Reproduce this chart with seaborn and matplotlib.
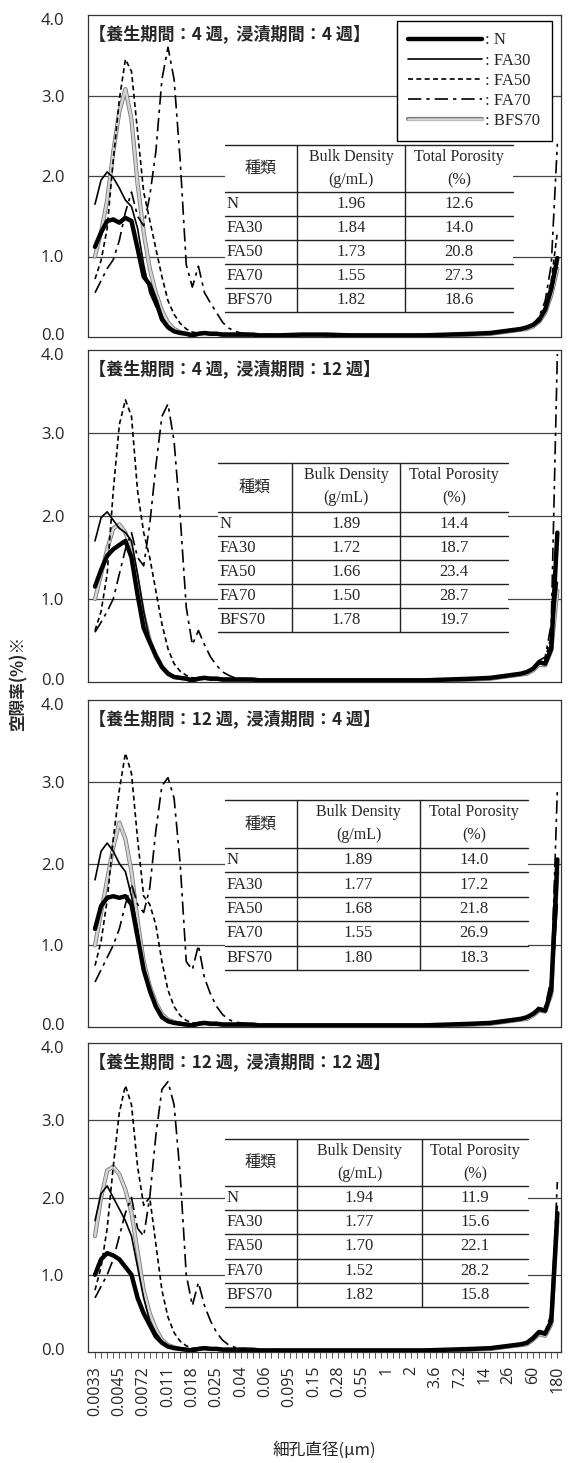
import matplotlib
matplotlib.use("Agg")
import matplotlib.pyplot as plt
import matplotlib.patheffects as pe
import matplotlib.transforms as mtransforms
from matplotlib.lines import Line2D
from matplotlib.patches import Rectangle
import seaborn as sns
import pandas as pd

sns.set_theme(style="white")
plt.rcParams['font.family'] = ['Open Sans', 'DejaVu Sans']

# ---------------- data ----------------
TICK_LABELS = ["0.0033", "0.0045", "0.0072", "0.011", "0.018", "0.025", "0.04", "0.06",
               "0.095", "0.15", "0.28", "0.55", "1", "2", "3.6", "7.2", "14", "26", "60", "180"]
N_POS = 77  # number of pore-size classes on the category axis
PORE_IDX = [0, 1, 2, 3, 4, 5, 6, 7, 8, 9, 10, 11, 12, 13, 14, 15, 16, 17, 18, 19, 20,
            21, 22, 23, 24, 25, 26, 27, 28, 29, 30,
            34, 38, 42, 46, 50, 54, 58, 62,
            65, 66, 67, 68, 69, 70, 71, 72, 73, 74, 75, 76]

SERIES = ["N", "FA30", "FA50", "FA70", "BFS70"]

TITLES = ["【養生期間：4 週,  浸漬期間：4 週】",
          "【養生期間：4 週,  浸漬期間：12 週】",
          "【養生期間：12 週,  浸漬期間：4 週】",
          "【養生期間：12 週,  浸漬期間：12 週】"]

# panel 1
P1_N = [1.12, 1.30, 1.44, 1.46, 1.42, 1.48, 1.44, 1.10, 0.75, 0.65, 0.45, 0.22, 0.12, 0.07, 0.05, 0.04, 0.02, 0.04, 0.05, 0.04, 0.04, 0.03, 0.03, 0.03, 0.03, 0.03, 0.03, 0.02, 0.02, 0.02, 0.02,
        0.03, 0.03, 0.02, 0.02, 0.02, 0.02, 0.03, 0.04,
        0.05, 0.06, 0.07, 0.08, 0.09, 0.10, 0.12, 0.15, 0.21, 0.34, 0.60, 0.98]
P1_FA30 = [1.65, 1.95, 2.05, 1.98, 1.85, 1.70, 1.62, 1.35, 0.90, 0.55, 0.38, 0.25, 0.14, 0.08, 0.05, 0.04, 0.02, 0.04, 0.05, 0.04, 0.04, 0.03, 0.03, 0.03, 0.03, 0.03, 0.02, 0.02, 0.02, 0.02, 0.02,
           0.03, 0.02, 0.02, 0.02, 0.02, 0.02, 0.03, 0.04,
           0.05, 0.05, 0.06, 0.07, 0.08, 0.09, 0.11, 0.14, 0.20, 0.32, 0.55, 0.90]
P1_FA50 = [0.72, 0.95, 1.35, 2.20, 2.95, 3.45, 3.30, 2.55, 1.80, 1.45, 1.10, 0.75, 0.45, 0.28, 0.17, 0.10, 0.06, 0.05, 0.05, 0.04, 0.04, 0.04, 0.03, 0.03, 0.03, 0.03, 0.03, 0.02, 0.02, 0.02, 0.02,
           0.03, 0.03, 0.02, 0.02, 0.02, 0.02, 0.03, 0.04,
           0.05, 0.06, 0.07, 0.08, 0.09, 0.10, 0.12, 0.15, 0.22, 0.38, 0.70, 1.30]
P1_FA70 = [0.55, 0.70, 0.85, 0.96, 1.20, 1.55, 1.80, 1.50, 1.38, 1.75, 2.30, 3.20, 3.60, 3.20, 2.20, 0.90, 0.62, 0.88, 0.55, 0.42, 0.30, 0.18, 0.11, 0.07, 0.05, 0.04, 0.04, 0.03, 0.03, 0.03, 0.03,
           0.03, 0.03, 0.03, 0.02, 0.02, 0.03, 0.03, 0.04,
           0.05, 0.06, 0.07, 0.08, 0.09, 0.10, 0.12, 0.16, 0.25, 0.45, 0.90, 2.40]
P1_BFS70 = [1.00, 1.30, 1.70, 2.30, 2.80, 3.08, 2.70, 1.90, 1.30, 0.85, 0.55, 0.33, 0.18, 0.10, 0.06, 0.04, 0.02, 0.04, 0.05, 0.04, 0.04, 0.03, 0.03, 0.03, 0.03, 0.03, 0.02, 0.02, 0.02, 0.02, 0.02,
            0.02, 0.02, 0.02, 0.02, 0.02, 0.02, 0.02, 0.03,
            0.04, 0.05, 0.06, 0.07, 0.08, 0.09, 0.10, 0.13, 0.19, 0.30, 0.52, 0.85]

# panel 2
P2_N = [1.15, 1.35, 1.52, 1.60, 1.65, 1.70, 1.50, 1.05, 0.65, 0.48, 0.32, 0.18, 0.10, 0.06, 0.05, 0.04, 0.02, 0.04, 0.05, 0.04, 0.04, 0.03, 0.03, 0.03, 0.03, 0.03, 0.03, 0.02, 0.02, 0.02, 0.02,
        0.02, 0.02, 0.02, 0.02, 0.02, 0.02, 0.03, 0.04,
        0.05, 0.06, 0.07, 0.08, 0.09, 0.10, 0.12, 0.16, 0.24, 0.22, 0.40, 1.80]
P2_FA30 = [1.70, 1.98, 2.05, 1.95, 1.85, 1.80, 1.70, 1.30, 0.85, 0.50, 0.32, 0.20, 0.12, 0.07, 0.05, 0.04, 0.02, 0.04, 0.05, 0.04, 0.04, 0.03, 0.03, 0.03, 0.03, 0.03, 0.02, 0.02, 0.02, 0.02, 0.02,
           0.02, 0.02, 0.02, 0.02, 0.02, 0.02, 0.03, 0.04,
           0.05, 0.05, 0.06, 0.07, 0.08, 0.09, 0.11, 0.15, 0.22, 0.25, 0.45, 1.20]
P2_FA50 = [0.62, 0.85, 1.30, 2.30, 3.10, 3.40, 3.20, 2.30, 1.80, 1.50, 1.10, 0.70, 0.40, 0.22, 0.13, 0.08, 0.05, 0.05, 0.05, 0.04, 0.04, 0.04, 0.03, 0.03, 0.03, 0.03, 0.03, 0.02, 0.02, 0.02, 0.02,
           0.02, 0.02, 0.02, 0.02, 0.02, 0.02, 0.03, 0.04,
           0.05, 0.06, 0.07, 0.08, 0.09, 0.10, 0.12, 0.16, 0.24, 0.28, 0.55, 1.60]
P2_FA70 = [0.60, 0.72, 0.85, 1.00, 1.30, 1.60, 1.80, 1.50, 1.40, 1.90, 2.60, 3.20, 3.35, 2.90, 2.00, 0.90, 0.45, 0.62, 0.45, 0.30, 0.20, 0.12, 0.08, 0.05, 0.04, 0.04, 0.03, 0.03, 0.03, 0.03, 0.03,
           0.02, 0.02, 0.02, 0.02, 0.02, 0.03, 0.03, 0.04,
           0.05, 0.06, 0.07, 0.08, 0.09, 0.10, 0.12, 0.17, 0.26, 0.30, 0.70, 3.95]
P2_BFS70 = [1.00, 1.30, 1.60, 1.85, 1.90, 1.80, 1.60, 1.20, 0.80, 0.50, 0.30, 0.18, 0.10, 0.06, 0.05, 0.04, 0.02, 0.04, 0.05, 0.04, 0.04, 0.03, 0.03, 0.03, 0.03, 0.03, 0.02, 0.02, 0.02, 0.02, 0.02,
            0.02, 0.02, 0.02, 0.02, 0.02, 0.02, 0.02, 0.03,
            0.04, 0.05, 0.06, 0.07, 0.08, 0.09, 0.10, 0.14, 0.21, 0.20, 0.38, 1.10]

# panel 3
P3_N = [1.20, 1.48, 1.58, 1.60, 1.58, 1.60, 1.50, 1.10, 0.70, 0.45, 0.25, 0.12, 0.07, 0.05, 0.04, 0.03, 0.02, 0.04, 0.05, 0.04, 0.04, 0.03, 0.03, 0.03, 0.03, 0.03, 0.03, 0.02, 0.02, 0.02, 0.02,
        0.02, 0.02, 0.02, 0.02, 0.02, 0.02, 0.03, 0.04,
        0.05, 0.06, 0.07, 0.08, 0.09, 0.10, 0.12, 0.16, 0.22, 0.20, 0.45, 2.05]
P3_FA30 = [1.80, 2.15, 2.25, 2.15, 2.00, 1.90, 1.60, 1.20, 0.70, 0.40, 0.25, 0.14, 0.08, 0.05, 0.04, 0.03, 0.02, 0.04, 0.05, 0.04, 0.04, 0.03, 0.03, 0.03, 0.03, 0.03, 0.02, 0.02, 0.02, 0.02, 0.02,
           0.02, 0.02, 0.02, 0.02, 0.02, 0.02, 0.03, 0.04,
           0.05, 0.05, 0.06, 0.07, 0.08, 0.09, 0.11, 0.15, 0.21, 0.20, 0.40, 1.50]
P3_FA50 = [0.75, 1.05, 1.55, 2.30, 2.90, 3.35, 3.10, 2.30, 1.60, 1.50, 1.25, 0.80, 0.45, 0.25, 0.14, 0.08, 0.05, 0.05, 0.05, 0.04, 0.04, 0.04, 0.03, 0.03, 0.03, 0.03, 0.03, 0.02, 0.02, 0.02, 0.02,
           0.02, 0.02, 0.02, 0.02, 0.02, 0.02, 0.03, 0.04,
           0.05, 0.06, 0.07, 0.08, 0.09, 0.10, 0.12, 0.16, 0.23, 0.22, 0.48, 1.80]
P3_FA70 = [0.55, 0.70, 0.85, 1.00, 1.20, 1.50, 1.75, 1.50, 1.40, 1.70, 2.40, 2.95, 3.05, 2.80, 2.00, 0.80, 0.70, 1.00, 0.60, 0.40, 0.25, 0.15, 0.09, 0.06, 0.05, 0.04, 0.03, 0.03, 0.03, 0.03, 0.03,
           0.02, 0.02, 0.02, 0.02, 0.02, 0.03, 0.03, 0.04,
           0.05, 0.06, 0.07, 0.08, 0.09, 0.10, 0.12, 0.17, 0.25, 0.25, 0.60, 2.90]
P3_BFS70 = [1.00, 1.40, 1.80, 2.20, 2.50, 2.30, 1.90, 1.30, 0.80, 0.50, 0.30, 0.16, 0.09, 0.06, 0.04, 0.03, 0.02, 0.04, 0.05, 0.04, 0.04, 0.03, 0.03, 0.03, 0.03, 0.03, 0.02, 0.02, 0.02, 0.02, 0.02,
            0.02, 0.02, 0.02, 0.02, 0.02, 0.02, 0.02, 0.03,
            0.04, 0.05, 0.06, 0.07, 0.08, 0.09, 0.10, 0.14, 0.20, 0.19, 0.40, 1.90]

# panel 4
P4_N = [1.00, 1.20, 1.28, 1.25, 1.20, 1.10, 1.00, 0.70, 0.50, 0.35, 0.20, 0.12, 0.07, 0.05, 0.04, 0.03, 0.02, 0.04, 0.05, 0.04, 0.04, 0.03, 0.03, 0.03, 0.03, 0.03, 0.03, 0.02, 0.02, 0.02, 0.02,
        0.02, 0.02, 0.02, 0.02, 0.02, 0.02, 0.03, 0.04,
        0.05, 0.06, 0.07, 0.08, 0.09, 0.10, 0.12, 0.18, 0.26, 0.24, 0.40, 1.80]
P4_FA30 = [1.70, 2.05, 2.15, 2.00, 1.85, 1.70, 1.50, 1.10, 0.70, 0.40, 0.25, 0.14, 0.08, 0.05, 0.04, 0.03, 0.02, 0.04, 0.05, 0.04, 0.04, 0.03, 0.03, 0.03, 0.03, 0.03, 0.02, 0.02, 0.02, 0.02, 0.02,
           0.02, 0.02, 0.02, 0.02, 0.02, 0.02, 0.03, 0.04,
           0.05, 0.05, 0.06, 0.07, 0.08, 0.09, 0.11, 0.16, 0.24, 0.22, 0.38, 1.60]
P4_FA50 = [0.80, 1.10, 1.60, 2.40, 3.10, 3.45, 3.20, 2.40, 1.90, 2.00, 1.40, 0.80, 0.45, 0.25, 0.14, 0.08, 0.05, 0.05, 0.05, 0.04, 0.04, 0.04, 0.03, 0.03, 0.03, 0.03, 0.03, 0.02, 0.02, 0.02, 0.02,
           0.02, 0.02, 0.02, 0.02, 0.02, 0.02, 0.03, 0.04,
           0.05, 0.06, 0.07, 0.08, 0.09, 0.10, 0.12, 0.17, 0.25, 0.23, 0.42, 1.90]
P4_FA70 = [0.70, 0.85, 1.00, 1.20, 1.50, 1.80, 2.00, 1.60, 1.50, 2.00, 2.80, 3.40, 3.50, 3.20, 2.30, 1.00, 0.60, 0.90, 0.60, 0.40, 0.25, 0.15, 0.09, 0.06, 0.05, 0.04, 0.03, 0.03, 0.03, 0.03, 0.03,
           0.02, 0.02, 0.02, 0.02, 0.02, 0.03, 0.03, 0.04,
           0.05, 0.06, 0.07, 0.08, 0.09, 0.10, 0.12, 0.18, 0.27, 0.26, 0.50, 2.20]
P4_BFS70 = [1.50, 2.00, 2.35, 2.40, 2.30, 2.10, 1.80, 1.30, 0.80, 0.50, 0.30, 0.16, 0.09, 0.06, 0.04, 0.03, 0.02, 0.04, 0.05, 0.04, 0.04, 0.03, 0.03, 0.03, 0.03, 0.03, 0.02, 0.02, 0.02, 0.02, 0.02,
            0.02, 0.02, 0.02, 0.02, 0.02, 0.02, 0.02, 0.03,
            0.04, 0.05, 0.06, 0.07, 0.08, 0.09, 0.10, 0.16, 0.23, 0.21, 0.36, 1.70]

PANELS = [
    [P1_N, P1_FA30, P1_FA50, P1_FA70, P1_BFS70],
    [P2_N, P2_FA30, P2_FA50, P2_FA70, P2_BFS70],
    [P3_N, P3_FA30, P3_FA50, P3_FA70, P3_BFS70],
    [P4_N, P4_FA30, P4_FA50, P4_FA70, P4_BFS70],
]

# tables (種類, Bulk Density, Total Porosity)
BULK = [["1.96", "1.84", "1.73", "1.55", "1.82"],
        ["1.89", "1.72", "1.66", "1.50", "1.78"],
        ["1.89", "1.77", "1.68", "1.55", "1.80"],
        ["1.94", "1.77", "1.70", "1.52", "1.82"]]
POROSITY = [["12.6", "14.0", "20.8", "27.3", "18.6"],
            ["14.4", "18.7", "23.4", "28.7", "19.7"],
            ["14.0", "17.2", "21.8", "26.9", "18.3"],
            ["11.9", "15.6", "22.1", "28.2", "15.8"]]

# ---------------- styling ----------------
STYLE = {
    "N": dict(color="black", lw=3.2, ls="-"),
    "FA30": dict(color="black", lw=1.2, ls="-"),
    "FA50": dict(color="black", lw=1.2, ls=(0, (3, 2))),
    "FA70": dict(color="black", lw=1.2, ls=(0, (8, 3, 2, 3))),
    "BFS70": dict(color="#d4d4d4", lw=1.8, ls="-",
                  path_effects=[pe.Stroke(linewidth=3.0, foreground="#777777"), pe.Normal()]),
}
ZORD = {"N": 5, "FA30": 4, "FA50": 3, "FA70": 3, "BFS70": 2}

W, H = 572, 1463
fig = plt.figure(figsize=(W / 100, H / 100), dpi=100)

AX_LEFT, AX_RIGHT = 88, 561
PANEL_PX = [(15, 337), (350, 682), (700, 1027), (1043, 1352)]
# table layout (px): x0, xc1, xc2, x1, ytop, yhead, ybot
TABLE_PX = [(225, 297, 405, 513, 145, 192, 312),
            (218, 292, 400, 508, 463, 512, 632),
            (225, 297, 420, 528, 800, 848, 970),
            (225, 297, 422, 528, 1139, 1186, 1307)]

SERIF = ['Liberation Serif', 'DejaVu Serif']
CJK = ['Noto Sans CJK JP', 'DejaVu Sans']


def px2ax(ax_px, x=None, y=None):
    top, bot = ax_px
    if x is not None:
        return (x - AX_LEFT) / (AX_RIGHT - AX_LEFT)
    return (bot - y) / (bot - top)


axes = []
for p, (top, bot) in enumerate(PANEL_PX):
    ax = fig.add_axes([AX_LEFT / W, 1 - bot / H, (AX_RIGHT - AX_LEFT) / W, (bot - top) / H])
    axes.append(ax)
    for s, vals in zip(SERIES, PANELS[p]):
        df = pd.DataFrame({"idx": PORE_IDX, "v": vals})
        kw = dict(STYLE[s])
        sns.lineplot(data=df, x="idx", y="v", ax=ax, zorder=ZORD[s],
                     legend=False, **kw)
    ax.set_xlim(-1.15, 76.6)
    ax.set_ylim(0, 4)
    ax.set_yticks([0, 1, 2, 3, 4])
    ax.set_yticklabels(["0.0", "1.0", "2.0", "3.0", "4.0"], fontsize=12)
    ax.tick_params(axis="y", length=0, pad=17)
    ylabs = ax.get_yticklabels()
    ylabs[0].set_transform(ylabs[0].get_transform() +
                           mtransforms.ScaledTranslation(0, 3 / 100, fig.dpi_scale_trans))
    ylabs[-1].set_transform(ylabs[-1].get_transform() +
                            mtransforms.ScaledTranslation(0, -4 / 100, fig.dpi_scale_trans))
    for yv in (1, 2, 3):
        ax.axhline(yv, color="#444444", lw=0.9, zorder=1)
    for sp in ax.spines.values():
        sp.set_color("#333333")
        sp.set_linewidth(0.9)
    ax.set_xlabel("")
    ax.set_ylabel("")
    if p < 3:
        ax.set_xticks([])
    else:
        ax.set_xticks(list(range(N_POS)))
        ax.set_xticklabels([TICK_LABELS[i // 4] if i % 4 == 0 else "" for i in range(N_POS)],
                           rotation=90, fontsize=11.5)
        ax.tick_params(axis="x", length=4, width=0.7, direction="out", pad=6,
                       color="#555555", bottom=True)
    # panel title
    ax.text(0.003, px2ax((top, bot), y=top + 19), TITLES[p], transform=ax.transAxes,
            fontsize=12.3, family=CJK, weight="bold", va="center", ha="left", zorder=10)

    # table
    x0, xc1, xc2, x1, yt, yh, yb = TABLE_PX[p]
    fx = lambda v: px2ax((top, bot), x=v)
    fy = lambda v: px2ax((top, bot), y=v)
    ax.add_patch(Rectangle((fx(x0), fy(yb)), fx(x1) - fx(x0), fy(yt) - fy(yb),
                           transform=ax.transAxes, facecolor="white", edgecolor="none", zorder=8))
    rows_y = [yh + (yb - yh) * k / 5 for k in range(6)]
    for yy in [yt] + rows_y:
        ax.plot([fx(x0), fx(x1)], [fy(yy), fy(yy)], transform=ax.transAxes,
                color="#222222", lw=1.0, zorder=9)
    for xx in (xc1, xc2):
        ax.plot([fx(xx), fx(xx)], [fy(yt), fy(yb)], transform=ax.transAxes,
                color="#222222", lw=1.0, zorder=9)
    ax.text((fx(x0) + fx(xc1)) / 2, fy((yt + yh) / 2), "種類", transform=ax.transAxes,
            family=CJK, fontsize=11.5, ha="center", va="center", zorder=10)
    ax.text((fx(xc1) + fx(xc2)) / 2, fy(yt + 12), "Bulk Density", transform=ax.transAxes,
            family=SERIF, fontsize=11.5, ha="center", va="center", zorder=10)
    ax.text((fx(xc1) + fx(xc2)) / 2, fy(yt + 35), "(g/mL)", transform=ax.transAxes,
            family=SERIF, fontsize=11.5, ha="center", va="center", zorder=10)
    ax.text((fx(xc2) + fx(x1)) / 2, fy(yt + 12), "Total Porosity", transform=ax.transAxes,
            family=SERIF, fontsize=11.5, ha="center", va="center", zorder=10)
    ax.text((fx(xc2) + fx(x1)) / 2, fy(yt + 35), "(%)", transform=ax.transAxes,
            family=SERIF, fontsize=11.5, ha="center", va="center", zorder=10)
    for k, s in enumerate(SERIES):
        yc = fy((rows_y[k] + rows_y[k + 1]) / 2)
        ax.text(fx(x0 + 2), yc, s, transform=ax.transAxes, family=SERIF, fontsize=12,
                ha="left", va="center", zorder=10)
        ax.text((fx(xc1) + fx(xc2)) / 2, yc, BULK[p][k], transform=ax.transAxes,
                family=SERIF, fontsize=12, ha="center", va="center", zorder=10)
        ax.text((fx(xc2) + fx(x1)) / 2, yc, POROSITY[p][k], transform=ax.transAxes,
                family=SERIF, fontsize=12, ha="center", va="center", zorder=10)

# legend in the first panel
handles = []
for s in SERIES:
    kw = dict(STYLE[s])
    handles.append(Line2D([], [], color=kw.pop("color"), lw=kw.pop("lw"),
                          ls=kw.pop("ls"), **kw))
leg = axes[0].legend(handles, [": " + s for s in SERIES], loc="upper right",
                     bbox_to_anchor=(0.98, 0.982), frameon=True, fancybox=False,
                     edgecolor="black", framealpha=1, handlelength=4.4,
                     handletextpad=0.2, labelspacing=0.25, borderpad=0.7,
                     borderaxespad=0.0, prop={"family": SERIF, "size": 12})
leg.get_frame().set_linewidth(1.0)
leg.set_zorder(12)

fig.text(19 / W, 1 - 683 / H, "空隙率(%)※", rotation=90, family=CJK, fontsize=12,
         weight="bold", ha="center", va="center")
fig.text((AX_LEFT + AX_RIGHT) / 2 / W, 1 - 1450 / H, "細孔直径(μm)", family=CJK,
         fontsize=12, ha="center", va="center")

fig.savefig("out.png", dpi=100)
